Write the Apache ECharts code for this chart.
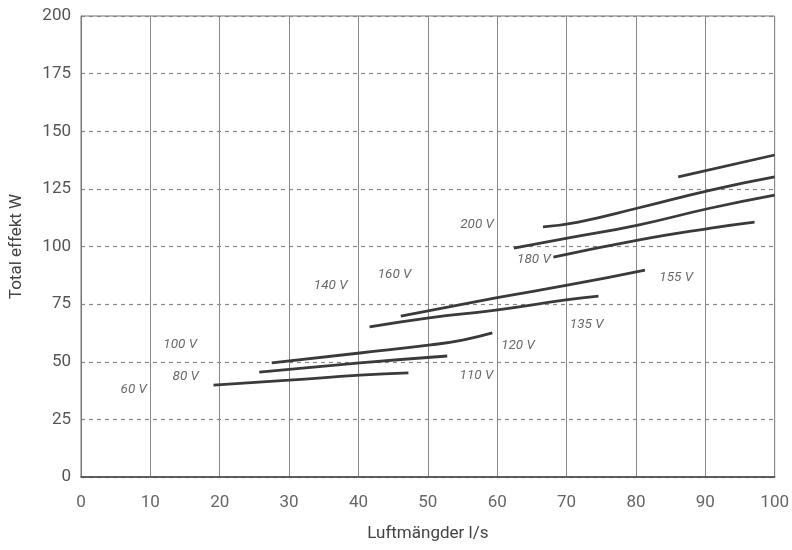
<!DOCTYPE html>
<html><head><meta charset="utf-8">
<script src="https://cdn.jsdelivr.net/npm/echarts@6/dist/echarts.min.js"></script>
<style>html,body{margin:0;padding:0;background:#fff}#c{width:792px;height:550px}</style>
</head><body><div id="c"></div>
<script>
const xTicks = [0,10,20,30,40,50,60,70,80,90,100];
const yTicks = [0,25,50,75,100,125,150,175,200];
const curve60  = [[19.1,39.9],[30,42.0],[40.2,44.2],[47.2,45.2]];
const curve80  = [[25.7,45.5],[40.2,49.5],[52.8,52.5]];
const curve100 = [[27.5,49.5],[40.2,53.8],[50.4,57.3],[55,59.4],[59.3,62.5]];
const curve140 = [[41.6,65.1],[50.2,69.0],[59.8,72.4],[69.9,76.8],[74.6,78.5]];
const curve160 = [[46.1,69.8],[59.8,77.7],[70.3,83.3],[81.3,89.8]];
const curveC   = [[68.1,95.4],[80.3,102.8],[90.8,108.0],[97.1,110.6]];
const curveB   = [[62.4,99.3],[70.3,103.7],[80.3,109.3],[90.8,116.7],[100,122.3]];
const curveA   = [[66.6,108.5],[71.7,110.6],[80.3,116.7],[90.8,124.5],[100,130.2]];
const curveTop = [[86.1,130.2],[100,139.7]];
const labelNames = ['60 V','80 V','100 V','110 V','120 V','140 V','160 V','135 V','155 V','200 V','180 V'];
const labelX = [7.6,15.1,14.3,57.0,63.0,36.0,45.2,72.9,85.8,57.1,65.3];
const labelY = [37.7,43.4,57.3,43.8,56.8,82.9,88.0,66.0,86.3,109.3,94.1];

const curves = [curve60,curve80,curve100,curve140,curve160,curveC,curveB,curveA,curveTop];
const font = "Roboto,'Open Sans',sans-serif";
const series = curves.map(d => ({
  type:'line', data:d, smooth:true, symbol:'none',
  lineStyle:{color:'#3a3a3a', width:2.8}
}));
series.push({
  type:'scatter', symbolSize:0,
  data: labelNames.map((n,i)=>({value:[labelX[i],labelY[i]], name:n})),
  label:{show:true, position:'inside', formatter:'{b}', fontStyle:'italic',
    fontSize:13.5, color:'#444', fontFamily:font}
});
const chart = echarts.init(document.getElementById('c'));
chart.setOption({
  animation:false,
  grid:{left:80, right:15, top:16, bottom:73, show:true, borderColor:'#777', borderWidth:1},
  xAxis:{type:'value', min:0, max:100, interval:10,
    name:'Luftmängder l/s', nameLocation:'middle', nameGap:48,
    nameTextStyle:{fontSize:17, color:'#444', fontFamily:font},
    axisLine:{lineStyle:{color:'#444', width:1.5}}, axisTick:{show:false},
    axisLabel:{fontSize:17, color:'#666', margin:17, fontFamily:font},
    splitLine:{show:true, lineStyle:{color:'#888', width:1}}},
  yAxis:{type:'value', min:0, max:200, interval:25,
    name:'Total effekt W', nameLocation:'middle', nameGap:56, nameRotate:90,
    nameTextStyle:{fontSize:17, color:'#444', fontFamily:font},
    axisLine:{show:true, lineStyle:{color:'#777', width:1}}, axisTick:{show:false},
    axisLabel:{fontSize:17, color:'#555', margin:10, fontFamily:font},
    splitLine:{show:true, lineStyle:{color:'#888', width:1.2, type:[4,4]}}},
  series: series
});
</script></body></html>
